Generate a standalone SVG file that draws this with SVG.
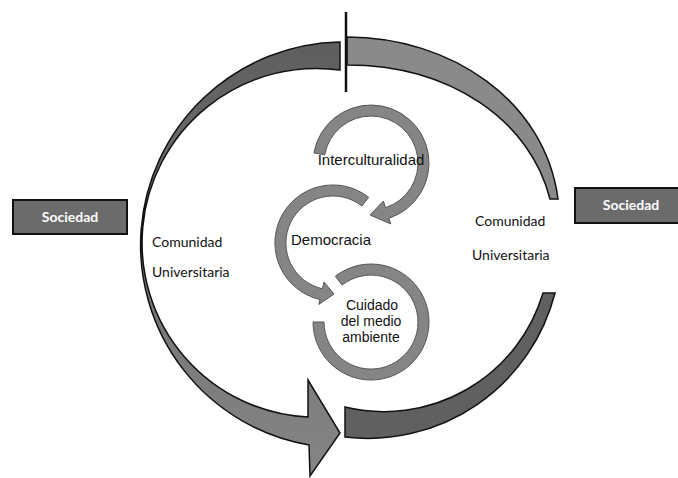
<svg xmlns="http://www.w3.org/2000/svg" width="678" height="478" viewBox="0 0 678 478">
  <defs>
    <linearGradient id="gLeft" x1="0" y1="40" x2="0" y2="476" gradientUnits="userSpaceOnUse">
      <stop offset="0" stop-color="#5e5e5e"/>
      <stop offset="0.5" stop-color="#727272"/>
      <stop offset="1" stop-color="#858585"/>
    </linearGradient>
  </defs>
  <style>
    .big { stroke: #111; stroke-width: 1.5; stroke-linejoin: miter; }
    .ring { fill: #858585; stroke: #555; stroke-width: 1; }
    .box { fill: #6b6b6b; stroke: #111; stroke-width: 2; }
    .soc { font-family: Lato, "Open Sans", sans-serif; font-weight: bold; font-size: 14px; fill: #fff; text-anchor: middle; }
    .com { font-family: Lato, "Open Sans", sans-serif; font-size: 14px; fill: #111; }
    .inner { font-family: "Liberation Sans", Arial, sans-serif; font-size: 15px; fill: #111; text-anchor: middle; }
    .cui { font-family: "Liberation Sans", Arial, sans-serif; font-size: 14px; fill: #111; text-anchor: middle; }
  </style>
  <rect width="678" height="478" fill="#fff"/>

  <g id="connectors">
    <!-- left crescent with arrowhead -->
    <path class="big" fill="url(#gLeft)" d="M340,42 A203,203 0 0 0 309,445 L310,476 L340,433 L308,380 L308,417 A174.4,174.4 0 1 1 340,70 Z"/>
    <!-- top right crescent -->
    <path class="big" fill="#8a8a8a" d="M347,37 C450,37 545,100 558,199 L550,199 C530,120 450,65 347,65 Z"/>
    <!-- bottom right crescent -->
    <path class="big" fill="#606060" d="M345,437 A193,193 0 0 0 555,293 L543,293 A166,166 0 0 1 345,407 Z"/>
    <!-- vertical divider -->
    <line x1="346" y1="12" x2="346" y2="92" stroke="#111" stroke-width="2.5"/>
    <!-- inner rings -->
    <path class="ring" d="M313.9,152.9 A58,58 0 1 1 388.9,218.2 L390.8,223.9 L370,215 L383.4,201 L385.5,207.7 A47,47 0 1 0 324.7,154.8 Z"/>
    <path class="ring" d="M368.7,197.3 A58,58 0 1 0 320,299.5 L318.8,304.4 L334,294 L324,282 L322.4,288.8 A47,47 0 1 1 361.9,206 Z"/>
    <path class="ring" d="M335.3,276.3 A58,58 0 1 1 313,322 L324,322 A47,47 0 1 0 342.1,285 Z"/>
  </g>

  <g id="sociedad-left">
    <rect class="box" x="13" y="200" width="114" height="34"/>
    <text class="soc" x="70" y="221.5">Sociedad</text>
  </g>
  <g id="sociedad-right">
    <rect class="box" x="575" y="188" width="106" height="35"/>
    <text class="soc" x="631" y="210">Sociedad</text>
  </g>
  <g id="comunidad-left">
    <text class="com" x="152" y="247">Comunidad</text>
    <text class="com" x="152" y="277">Universitaria</text>
  </g>
  <g id="comunidad-right">
    <text class="com" x="475" y="226">Comunidad</text>
    <text class="com" x="472" y="260">Universitaria</text>
  </g>
  <g id="interculturalidad">
    <text class="inner" x="371" y="165">Interculturalidad</text>
  </g>
  <g id="democracia">
    <text class="inner" x="331" y="245">Democracia</text>
  </g>
  <g id="cuidado">
    <text class="cui" x="372" y="310">Cuidado</text>
    <text class="cui" x="371" y="326">del medio</text>
    <text class="cui" x="371" y="342">ambiente</text>
  </g>
</svg>
